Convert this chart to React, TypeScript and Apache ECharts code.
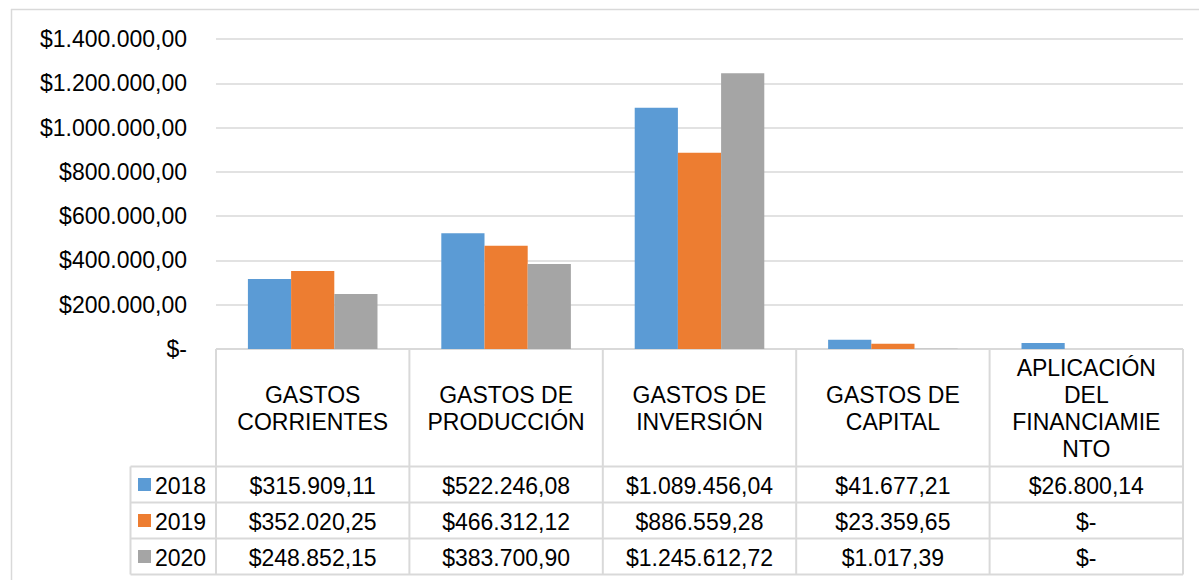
import React, { useEffect, useRef } from "react";
import * as echarts from "echarts";

const categories = [
  "GASTOS\nCORRIENTES",
  "GASTOS DE\nPRODUCCIÓN",
  "GASTOS DE\nINVERSIÓN",
  "GASTOS DE\nCAPITAL",
  "APLICACIÓN\nDEL\nFINANCIAMIE\nNTO",
];
const years = ["2018", "2019", "2020"];
const values2018 = [315909.11, 522246.08, 1089456.04, 41677.21, 26800.14];
const values2019 = [352020.25, 466312.12, 886559.28, 23359.65, 0];
const values2020 = [248852.15, 383700.9, 1245612.72, 1017.39, 0];
const seriesValues = [values2018, values2019, values2020];
const colors = ["#5B9BD5", "#ED7D31", "#A5A5A5"];
const yMin = 0;
const yMax = 1400000;
const yInterval = 200000;

function fmt(v: number): string {
  if (v === 0) return "$-";
  const fixed = v.toFixed(2);
  const [intPart, dec] = fixed.split(".");
  const withDots = intPart.replace(/\B(?=(\d{3})+(?!\d))/g, ".");
  return "$" + withDots + "," + dec;
}

const FONT = "'Liberation Sans', Arial, sans-serif";
const FS = 23;

export default function App() {
  const ref = useRef<HTMLDivElement>(null);
  useEffect(() => {
    document.body.style.margin = "0";
    if (!ref.current) return;
    const chart = echarts.init(ref.current, null, { renderer: "svg" });
    const W = 1199;
    const H = 580;
    const gridLeft = 216;
    const gridRight = 16;
    const gridTop = 39;
    const gridBottom = 231;
    const x0 = gridLeft;
    const x1 = W - gridRight;
    const axisY = H - gridBottom;
    const colW = (x1 - x0) / categories.length;
    const headerBottom = 466.5;
    const rowH = 36;
    const legendLeft = 130.5;
    const border = "#D9D9D9";
    const tableBottom = headerBottom + rowH * years.length;

    const graphics: any[] = [];
    graphics.push({
      type: "line",
      shape: { x1: 11, y1: 9.5, x2: W, y2: 9.5 },
      style: { stroke: border, lineWidth: 1.5 },
      silent: true,
    });
    graphics.push({
      type: "line",
      shape: { x1: 11.5, y1: 9, x2: 11.5, y2: H },
      style: { stroke: border, lineWidth: 1.5 },
      silent: true,
    });
    graphics.push({
      type: "line",
      shape: { x1: x0, y1: axisY, x2: x1, y2: axisY },
      style: { stroke: border, lineWidth: 2 },
      silent: true,
    });
    for (let i = 0; i <= categories.length; i++) {
      const x = x0 + colW * i;
      graphics.push({
        type: "line",
        shape: { x1: x, y1: axisY, x2: x, y2: tableBottom },
        style: { stroke: border, lineWidth: 2 },
        silent: true,
      });
    }
    graphics.push({
      type: "line",
      shape: { x1: legendLeft, y1: headerBottom, x2: legendLeft, y2: tableBottom },
      style: { stroke: border, lineWidth: 2 },
      silent: true,
    });
    for (let r = 0; r <= years.length; r++) {
      const y = headerBottom + rowH * r;
      graphics.push({
        type: "line",
        shape: { x1: legendLeft, y1: y, x2: x1, y2: y },
        style: { stroke: border, lineWidth: 2 },
        silent: true,
      });
    }
    years.forEach((yr, r) => {
      const cy = headerBottom + rowH * r + rowH / 2;
      graphics.push({
        type: "rect",
        shape: { x: 138, y: cy - 6.5, width: 13, height: 13 },
        style: { fill: colors[r] },
        silent: true,
      });
      graphics.push({
        type: "text",
        x: 155,
        y: cy + 1,
        style: {
          text: yr,
          fill: "#000",
          fontSize: FS,
          fontFamily: FONT,
          align: "left",
          verticalAlign: "middle",
        },
        silent: true,
      });
      seriesValues[r].forEach((v, c) => {
        graphics.push({
          type: "text",
          x: x0 + colW * (c + 0.5),
          y: cy + 1,
          style: {
            text: fmt(v),
            fill: "#000",
            fontSize: FS,
            fontFamily: FONT,
            align: "center",
            verticalAlign: "middle",
          },
          silent: true,
        });
      });
    });

    chart.setOption({
      animation: false,
      backgroundColor: "#fff",
      grid: {
        left: gridLeft,
        right: gridRight,
        top: gridTop,
        bottom: gridBottom,
        containLabel: false,
        outerBoundsMode: "none",
      },
      xAxis: {
        type: "category",
        data: categories,
        axisLine: { show: false },
        axisTick: { show: false },
        axisLabel: {
          interval: 0,
          color: "#000",
          fontSize: FS,
          fontFamily: FONT,
          lineHeight: 27,
          margin: (headerBottom - axisY) / 2 + 1,
          verticalAlign: "middle",
          align: "center",
        },
        splitLine: { show: false },
      },
      yAxis: {
        type: "value",
        min: yMin,
        max: yMax,
        interval: yInterval,
        axisLine: { show: false },
        axisTick: { show: false },
        axisLabel: {
          color: "#000",
          fontSize: FS,
          fontFamily: FONT,
          margin: 29,
          formatter: (v: number) => fmt(v),
        },
        splitLine: { lineStyle: { color: border, width: 1.5 } },
      },
      series: years.map((yr, i) => ({
        name: yr,
        type: "bar",
        data: seriesValues[i],
        barGap: "0%",
        barCategoryGap: "33%",
        itemStyle: { color: colors[i] },
        z: 3,
      })),
      graphic: graphics,
    });
    return () => chart.dispose();
  }, []);
  return (
    <div
      ref={ref}
      style={{ position: "absolute", left: 0, top: 0, width: 1199, height: 580 }}
    />
  );
}
